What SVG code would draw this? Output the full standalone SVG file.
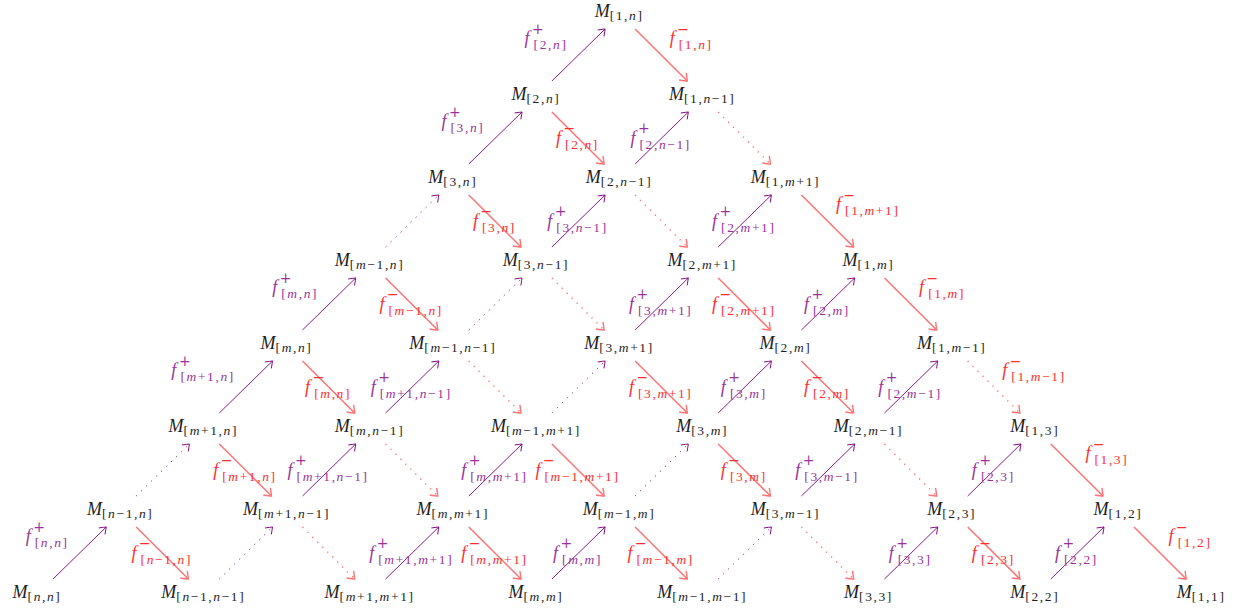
<svg xmlns="http://www.w3.org/2000/svg" width="1253" height="611" viewBox="0 0 1253 611">
<style>
.nd{font-family:"Liberation Serif","Times New Roman",serif;font-size:18px;fill:#1e1e1e;text-anchor:middle}
.lp,.lr{font-family:"Liberation Serif","Times New Roman",serif;font-size:18px}
.lp{fill:#993399}
.lr{fill:#ff2e2e}
.i{font-style:italic}
.s{font-size:13.5px;letter-spacing:1.6px}
.u{font-family:"DejaVu Serif",serif;font-size:14px}
.mid{text-anchor:middle}
.st{text-anchor:start}
.en{text-anchor:end}
.ap{stroke:#800080;stroke-width:0.9;fill:none;marker-end:url(#hp)}
.ar{stroke:#ff7373;stroke-width:1.5;fill:none;marker-end:url(#hr)}
.dot{stroke-dasharray:1.2 5.8}
</style>
<defs>
<marker id="hp" markerUnits="userSpaceOnUse" orient="auto" markerWidth="20" markerHeight="20" viewBox="-10 -10 20 20" refX="0" refY="0" overflow="visible"><path d="M-6,-4.5 Q-1.5,-1.2 0,0 Q-1.5,1.2 -6,4.5" fill="none" stroke="#800080" stroke-width="0.9"/></marker>
<marker id="hr" markerUnits="userSpaceOnUse" orient="auto" markerWidth="20" markerHeight="20" viewBox="-10 -10 20 20" refX="0" refY="0" overflow="visible"><path d="M-6.5,-5 Q-1.5,-1.2 0,0 Q-1.5,1.2 -6.5,5" fill="none" stroke="#ff7373" stroke-width="1.4"/></marker>
</defs>
<rect width="1253" height="611" fill="#ffffff"/>

<g id="connectors">
<!-- purple up-right -->
<line class="ap" x1="53" y1="579" x2="106.2" y2="527"/>
<line class="ap dot" x1="219.3" y1="579" x2="272.5" y2="527"/>
<line class="ap" x1="385.6" y1="579" x2="438.8" y2="527"/>
<line class="ap" x1="551.9" y1="579" x2="605.1" y2="527"/>
<line class="ap dot" x1="718.2" y1="579" x2="771.4" y2="527"/>
<line class="ap" x1="884.5" y1="579" x2="937.7" y2="527"/>
<line class="ap" x1="1050.8" y1="579" x2="1104" y2="527"/>
<line class="ap dot" x1="136.2" y1="496" x2="189.4" y2="444"/>
<line class="ap" x1="302.5" y1="496" x2="355.7" y2="444"/>
<line class="ap" x1="468.8" y1="496" x2="522" y2="444"/>
<line class="ap dot" x1="635.1" y1="496" x2="688.3" y2="444"/>
<line class="ap" x1="801.4" y1="496" x2="854.6" y2="444"/>
<line class="ap" x1="967.7" y1="496" x2="1020.9" y2="444"/>
<line class="ap" x1="219.3" y1="413" x2="272.5" y2="361"/>
<line class="ap" x1="385.6" y1="413" x2="438.8" y2="361"/>
<line class="ap dot" x1="551.9" y1="413" x2="605.1" y2="361"/>
<line class="ap" x1="718.2" y1="413" x2="771.4" y2="361"/>
<line class="ap" x1="884.5" y1="413" x2="937.7" y2="361"/>
<line class="ap" x1="302.5" y1="330" x2="355.7" y2="278"/>
<line class="ap dot" x1="468.8" y1="330" x2="522" y2="278"/>
<line class="ap" x1="635.1" y1="330" x2="688.3" y2="278"/>
<line class="ap" x1="801.4" y1="330" x2="854.6" y2="278"/>
<line class="ap dot" x1="385.6" y1="247" x2="438.8" y2="195"/>
<line class="ap" x1="551.9" y1="247" x2="605.1" y2="195"/>
<line class="ap" x1="718.2" y1="247" x2="771.4" y2="195"/>
<line class="ap" x1="468.8" y1="164" x2="522" y2="112"/>
<line class="ap" x1="635.1" y1="164" x2="688.3" y2="112"/>
<line class="ap" x1="551.9" y1="81" x2="605.1" y2="29"/>
<!-- red down-right -->
<line class="ar" x1="635.1" y1="29" x2="687.3" y2="81"/>
<line class="ar" x1="551.9" y1="112" x2="604.1" y2="164"/>
<line class="ar dot" x1="718.2" y1="112" x2="770.4" y2="164"/>
<line class="ar" x1="468.8" y1="195" x2="521" y2="247"/>
<line class="ar dot" x1="635.1" y1="195" x2="687.3" y2="247"/>
<line class="ar" x1="801.4" y1="195" x2="853.6" y2="247"/>
<line class="ar" x1="385.6" y1="278" x2="437.8" y2="330"/>
<line class="ar dot" x1="551.9" y1="278" x2="604.1" y2="330"/>
<line class="ar" x1="718.2" y1="278" x2="770.4" y2="330"/>
<line class="ar" x1="884.5" y1="278" x2="936.7" y2="330"/>
<line class="ar" x1="302.5" y1="361" x2="354.7" y2="413"/>
<line class="ar dot" x1="468.8" y1="361" x2="521" y2="413"/>
<line class="ar" x1="635.1" y1="361" x2="687.3" y2="413"/>
<line class="ar" x1="801.4" y1="361" x2="853.6" y2="413"/>
<line class="ar dot" x1="967.7" y1="361" x2="1019.9" y2="413"/>
<line class="ar" x1="219.3" y1="444" x2="271.5" y2="496"/>
<line class="ar dot" x1="385.6" y1="444" x2="437.8" y2="496"/>
<line class="ar" x1="551.9" y1="444" x2="604.1" y2="496"/>
<line class="ar" x1="718.2" y1="444" x2="770.4" y2="496"/>
<line class="ar dot" x1="884.5" y1="444" x2="936.7" y2="496"/>
<line class="ar" x1="1050.8" y1="444" x2="1103" y2="496"/>
<line class="ar" x1="136.2" y1="527" x2="188.4" y2="579"/>
<line class="ar dot" x1="302.5" y1="527" x2="354.7" y2="579"/>
<line class="ar" x1="468.8" y1="527" x2="521" y2="579"/>
<line class="ar" x1="635.1" y1="527" x2="687.3" y2="579"/>
<line class="ar dot" x1="801.4" y1="527" x2="853.6" y2="579"/>
<line class="ar" x1="967.7" y1="527" x2="1019.9" y2="579"/>
<line class="ar" x1="1134" y1="527" x2="1186.2" y2="579"/>

<!-- purple labels (interior) -->
<text class="lp mid" x="411.2" y="558.5"><tspan class="i">f</tspan><tspan class="u" dx="2.5" dy="-10.5">+</tspan><tspan class="s" dx="-10.2" dy="15.5">[<tspan class="i">m</tspan>+1,<tspan class="i">m</tspan>+1]</tspan></text>
<text class="lp mid" x="577.5" y="558.5"><tspan class="i">f</tspan><tspan class="u" dx="2.5" dy="-10.5">+</tspan><tspan class="s" dx="-10.2" dy="15.5">[<tspan class="i">m</tspan>,<tspan class="i">m</tspan>]</tspan></text>
<text class="lp mid" x="910.1" y="558.5"><tspan class="i">f</tspan><tspan class="u" dx="2.5" dy="-10.5">+</tspan><tspan class="s" dx="-10.2" dy="15.5">[3,3]</tspan></text>
<text class="lp mid" x="1076.4" y="558.5"><tspan class="i">f</tspan><tspan class="u" dx="2.5" dy="-10.5">+</tspan><tspan class="s" dx="-10.2" dy="15.5">[2,2]</tspan></text>
<text class="lp mid" x="328.1" y="475.5"><tspan class="i">f</tspan><tspan class="u" dx="2.5" dy="-10.5">+</tspan><tspan class="s" dx="-10.2" dy="15.5">[<tspan class="i">m</tspan>+1,<tspan class="i">n</tspan>−1]</tspan></text>
<text class="lp mid" x="494.4" y="475.5"><tspan class="i">f</tspan><tspan class="u" dx="2.5" dy="-10.5">+</tspan><tspan class="s" dx="-10.2" dy="15.5">[<tspan class="i">m</tspan>,<tspan class="i">m</tspan>+1]</tspan></text>
<text class="lp mid" x="827" y="475.5"><tspan class="i">f</tspan><tspan class="u" dx="2.5" dy="-10.5">+</tspan><tspan class="s" dx="-10.2" dy="15.5">[3,<tspan class="i">m</tspan>−1]</tspan></text>
<text class="lp mid" x="993.3" y="475.5"><tspan class="i">f</tspan><tspan class="u" dx="2.5" dy="-10.5">+</tspan><tspan class="s" dx="-10.2" dy="15.5">[2,3]</tspan></text>
<text class="lp mid" x="411.2" y="392.5"><tspan class="i">f</tspan><tspan class="u" dx="2.5" dy="-10.5">+</tspan><tspan class="s" dx="-10.2" dy="15.5">[<tspan class="i">m</tspan>+1,<tspan class="i">n</tspan>−1]</tspan></text>
<text class="lp mid" x="743.8" y="392.5"><tspan class="i">f</tspan><tspan class="u" dx="2.5" dy="-10.5">+</tspan><tspan class="s" dx="-10.2" dy="15.5">[3,<tspan class="i">m</tspan>]</tspan></text>
<text class="lp mid" x="910.1" y="392.5"><tspan class="i">f</tspan><tspan class="u" dx="2.5" dy="-10.5">+</tspan><tspan class="s" dx="-10.2" dy="15.5">[2,<tspan class="i">m</tspan>−1]</tspan></text>
<text class="lp mid" x="660.7" y="309.5"><tspan class="i">f</tspan><tspan class="u" dx="2.5" dy="-10.5">+</tspan><tspan class="s" dx="-10.2" dy="15.5">[3,<tspan class="i">m</tspan>+1]</tspan></text>
<text class="lp mid" x="827" y="309.5"><tspan class="i">f</tspan><tspan class="u" dx="2.5" dy="-10.5">+</tspan><tspan class="s" dx="-10.2" dy="15.5">[2,<tspan class="i">m</tspan>]</tspan></text>
<text class="lp mid" x="577.5" y="226.5"><tspan class="i">f</tspan><tspan class="u" dx="2.5" dy="-10.5">+</tspan><tspan class="s" dx="-10.2" dy="15.5">[3,<tspan class="i">n</tspan>−1]</tspan></text>
<text class="lp mid" x="743.8" y="226.5"><tspan class="i">f</tspan><tspan class="u" dx="2.5" dy="-10.5">+</tspan><tspan class="s" dx="-10.2" dy="15.5">[2,<tspan class="i">m</tspan>+1]</tspan></text>
<text class="lp mid" x="660.7" y="143.5"><tspan class="i">f</tspan><tspan class="u" dx="2.5" dy="-10.5">+</tspan><tspan class="s" dx="-10.2" dy="15.5">[2,<tspan class="i">n</tspan>−1]</tspan></text>
<!-- purple labels (outside left) -->
<text class="lp en" x="68.6" y="542"><tspan class="i">f</tspan><tspan class="u" dx="2.5" dy="-10.5">+</tspan><tspan class="s" dx="-10.2" dy="15.5">[<tspan class="i">n</tspan>,<tspan class="i">n</tspan>]</tspan></text>
<text class="lp en" x="234.9" y="376"><tspan class="i">f</tspan><tspan class="u" dx="2.5" dy="-10.5">+</tspan><tspan class="s" dx="-10.2" dy="15.5">[<tspan class="i">m</tspan>+1,<tspan class="i">n</tspan>]</tspan></text>
<text class="lp en" x="318.1" y="293"><tspan class="i">f</tspan><tspan class="u" dx="2.5" dy="-10.5">+</tspan><tspan class="s" dx="-10.2" dy="15.5">[<tspan class="i">m</tspan>,<tspan class="i">n</tspan>]</tspan></text>
<text class="lp en" x="484.4" y="127"><tspan class="i">f</tspan><tspan class="u" dx="2.5" dy="-10.5">+</tspan><tspan class="s" dx="-10.2" dy="15.5">[3,<tspan class="i">n</tspan>]</tspan></text>
<text class="lp en" x="567.5" y="44"><tspan class="i">f</tspan><tspan class="u" dx="2.5" dy="-10.5">+</tspan><tspan class="s" dx="-10.2" dy="15.5">[2,<tspan class="i">n</tspan>]</tspan></text>
<!-- red labels (interior) -->
<text class="lr mid" x="577.5" y="143.5"><tspan class="i">f</tspan><tspan class="u" dx="2.5" dy="-10.5">−</tspan><tspan class="s" dx="-10.2" dy="15.5">[2,<tspan class="i">n</tspan>]</tspan></text>
<text class="lr mid" x="494.4" y="226.5"><tspan class="i">f</tspan><tspan class="u" dx="2.5" dy="-10.5">−</tspan><tspan class="s" dx="-10.2" dy="15.5">[3,<tspan class="i">n</tspan>]</tspan></text>
<text class="lr mid" x="411.2" y="309.5"><tspan class="i">f</tspan><tspan class="u" dx="2.5" dy="-10.5">−</tspan><tspan class="s" dx="-10.2" dy="15.5">[<tspan class="i">m</tspan>−1,<tspan class="i">n</tspan>]</tspan></text>
<text class="lr mid" x="743.8" y="309.5"><tspan class="i">f</tspan><tspan class="u" dx="2.5" dy="-10.5">−</tspan><tspan class="s" dx="-10.2" dy="15.5">[2,<tspan class="i">m</tspan>+1]</tspan></text>
<text class="lr mid" x="328.1" y="392.5"><tspan class="i">f</tspan><tspan class="u" dx="2.5" dy="-10.5">−</tspan><tspan class="s" dx="-10.2" dy="15.5">[<tspan class="i">m</tspan>,<tspan class="i">n</tspan>]</tspan></text>
<text class="lr mid" x="660.7" y="392.5"><tspan class="i">f</tspan><tspan class="u" dx="2.5" dy="-10.5">−</tspan><tspan class="s" dx="-10.2" dy="15.5">[3,<tspan class="i">m</tspan>+1]</tspan></text>
<text class="lr mid" x="827" y="392.5"><tspan class="i">f</tspan><tspan class="u" dx="2.5" dy="-10.5">−</tspan><tspan class="s" dx="-10.2" dy="15.5">[2,<tspan class="i">m</tspan>]</tspan></text>
<text class="lr mid" x="244.9" y="475.5"><tspan class="i">f</tspan><tspan class="u" dx="2.5" dy="-10.5">−</tspan><tspan class="s" dx="-10.2" dy="15.5">[<tspan class="i">m</tspan>+1,<tspan class="i">n</tspan>]</tspan></text>
<text class="lr mid" x="577.5" y="475.5"><tspan class="i">f</tspan><tspan class="u" dx="2.5" dy="-10.5">−</tspan><tspan class="s" dx="-10.2" dy="15.5">[<tspan class="i">m</tspan>−1,<tspan class="i">m</tspan>+1]</tspan></text>
<text class="lr mid" x="743.8" y="475.5"><tspan class="i">f</tspan><tspan class="u" dx="2.5" dy="-10.5">−</tspan><tspan class="s" dx="-10.2" dy="15.5">[3,<tspan class="i">m</tspan>]</tspan></text>
<text class="lr mid" x="161.8" y="558.5"><tspan class="i">f</tspan><tspan class="u" dx="2.5" dy="-10.5">−</tspan><tspan class="s" dx="-10.2" dy="15.5">[<tspan class="i">n</tspan>−1,<tspan class="i">n</tspan>]</tspan></text>
<text class="lr mid" x="494.4" y="558.5"><tspan class="i">f</tspan><tspan class="u" dx="2.5" dy="-10.5">−</tspan><tspan class="s" dx="-10.2" dy="15.5">[<tspan class="i">m</tspan>,<tspan class="i">m</tspan>+1]</tspan></text>
<text class="lr mid" x="660.7" y="558.5"><tspan class="i">f</tspan><tspan class="u" dx="2.5" dy="-10.5">−</tspan><tspan class="s" dx="-10.2" dy="15.5">[<tspan class="i">m</tspan>−1,<tspan class="i">m</tspan>]</tspan></text>
<text class="lr mid" x="993.3" y="558.5"><tspan class="i">f</tspan><tspan class="u" dx="2.5" dy="-10.5">−</tspan><tspan class="s" dx="-10.2" dy="15.5">[2,3]</tspan></text>
<!-- red labels (outside right) -->
<text class="lr st" x="669.7" y="44"><tspan class="i">f</tspan><tspan class="u" dx="2.5" dy="-10.5">−</tspan><tspan class="s" dx="-10.2" dy="15.5">[1,<tspan class="i">n</tspan>]</tspan></text>
<text class="lr st" x="836" y="210"><tspan class="i">f</tspan><tspan class="u" dx="2.5" dy="-10.5">−</tspan><tspan class="s" dx="-10.2" dy="15.5">[1,<tspan class="i">m</tspan>+1]</tspan></text>
<text class="lr st" x="919.1" y="293"><tspan class="i">f</tspan><tspan class="u" dx="2.5" dy="-10.5">−</tspan><tspan class="s" dx="-10.2" dy="15.5">[1,<tspan class="i">m</tspan>]</tspan></text>
<text class="lr st" x="1002.3" y="376"><tspan class="i">f</tspan><tspan class="u" dx="2.5" dy="-10.5">−</tspan><tspan class="s" dx="-10.2" dy="15.5">[1,<tspan class="i">m</tspan>−1]</tspan></text>
<text class="lr st" x="1085.4" y="459"><tspan class="i">f</tspan><tspan class="u" dx="2.5" dy="-10.5">−</tspan><tspan class="s" dx="-10.2" dy="15.5">[1,3]</tspan></text>
<text class="lr st" x="1168.6" y="542"><tspan class="i">f</tspan><tspan class="u" dx="2.5" dy="-10.5">−</tspan><tspan class="s" dx="-10.2" dy="15.5">[1,2]</tspan></text>
</g>

<!-- nodes -->
<g id="M-r0c0"><text class="nd" x="37" y="598"><tspan class="i">M</tspan><tspan class="s" dy="3">[<tspan class="i">n</tspan>,<tspan class="i">n</tspan>]</tspan></text></g>
<g id="M-r0c2"><text class="nd" x="203.3" y="598"><tspan class="i">M</tspan><tspan class="s" dy="3">[<tspan class="i">n</tspan>−1,<tspan class="i">n</tspan>−1]</tspan></text></g>
<g id="M-r0c4"><text class="nd" x="369.6" y="598"><tspan class="i">M</tspan><tspan class="s" dy="3">[<tspan class="i">m</tspan>+1,<tspan class="i">m</tspan>+1]</tspan></text></g>
<g id="M-r0c6"><text class="nd" x="535.9" y="598"><tspan class="i">M</tspan><tspan class="s" dy="3">[<tspan class="i">m</tspan>,<tspan class="i">m</tspan>]</tspan></text></g>
<g id="M-r0c8"><text class="nd" x="702.2" y="598"><tspan class="i">M</tspan><tspan class="s" dy="3">[<tspan class="i">m</tspan>−1,<tspan class="i">m</tspan>−1]</tspan></text></g>
<g id="M-r0c10"><text class="nd" x="868.5" y="598"><tspan class="i">M</tspan><tspan class="s" dy="3">[3,3]</tspan></text></g>
<g id="M-r0c12"><text class="nd" x="1034.8" y="598"><tspan class="i">M</tspan><tspan class="s" dy="3">[2,2]</tspan></text></g>
<g id="M-r0c14"><text class="nd" x="1201.1" y="598"><tspan class="i">M</tspan><tspan class="s" dy="3">[1,1]</tspan></text></g>

<g id="M-r1c1"><text class="nd" x="120.2" y="515"><tspan class="i">M</tspan><tspan class="s" dy="3">[<tspan class="i">n</tspan>−1,<tspan class="i">n</tspan>]</tspan></text></g>
<g id="M-r1c3"><text class="nd" x="286.5" y="515"><tspan class="i">M</tspan><tspan class="s" dy="3">[<tspan class="i">m</tspan>+1,<tspan class="i">n</tspan>−1]</tspan></text></g>
<g id="M-r1c5"><text class="nd" x="452.8" y="515"><tspan class="i">M</tspan><tspan class="s" dy="3">[<tspan class="i">m</tspan>,<tspan class="i">m</tspan>+1]</tspan></text></g>
<g id="M-r1c7"><text class="nd" x="619.1" y="515"><tspan class="i">M</tspan><tspan class="s" dy="3">[<tspan class="i">m</tspan>−1,<tspan class="i">m</tspan>]</tspan></text></g>
<g id="M-r1c9"><text class="nd" x="785.4" y="515"><tspan class="i">M</tspan><tspan class="s" dy="3">[3,<tspan class="i">m</tspan>−1]</tspan></text></g>
<g id="M-r1c11"><text class="nd" x="951.7" y="515"><tspan class="i">M</tspan><tspan class="s" dy="3">[2,3]</tspan></text></g>
<g id="M-r1c13"><text class="nd" x="1118" y="515"><tspan class="i">M</tspan><tspan class="s" dy="3">[1,2]</tspan></text></g>

<g id="M-r2c2"><text class="nd" x="203.3" y="432"><tspan class="i">M</tspan><tspan class="s" dy="3">[<tspan class="i">m</tspan>+1,<tspan class="i">n</tspan>]</tspan></text></g>
<g id="M-r2c4"><text class="nd" x="369.6" y="432"><tspan class="i">M</tspan><tspan class="s" dy="3">[<tspan class="i">m</tspan>,<tspan class="i">n</tspan>−1]</tspan></text></g>
<g id="M-r2c6"><text class="nd" x="535.9" y="432"><tspan class="i">M</tspan><tspan class="s" dy="3">[<tspan class="i">m</tspan>−1,<tspan class="i">m</tspan>+1]</tspan></text></g>
<g id="M-r2c8"><text class="nd" x="702.2" y="432"><tspan class="i">M</tspan><tspan class="s" dy="3">[3,<tspan class="i">m</tspan>]</tspan></text></g>
<g id="M-r2c10"><text class="nd" x="868.5" y="432"><tspan class="i">M</tspan><tspan class="s" dy="3">[2,<tspan class="i">m</tspan>−1]</tspan></text></g>
<g id="M-r2c12"><text class="nd" x="1034.8" y="432"><tspan class="i">M</tspan><tspan class="s" dy="3">[1,3]</tspan></text></g>

<g id="M-r3c3"><text class="nd" x="286.5" y="349"><tspan class="i">M</tspan><tspan class="s" dy="3">[<tspan class="i">m</tspan>,<tspan class="i">n</tspan>]</tspan></text></g>
<g id="M-r3c5"><text class="nd" x="452.8" y="349"><tspan class="i">M</tspan><tspan class="s" dy="3">[<tspan class="i">m</tspan>−1,<tspan class="i">n</tspan>−1]</tspan></text></g>
<g id="M-r3c7"><text class="nd" x="619.1" y="349"><tspan class="i">M</tspan><tspan class="s" dy="3">[3,<tspan class="i">m</tspan>+1]</tspan></text></g>
<g id="M-r3c9"><text class="nd" x="785.4" y="349"><tspan class="i">M</tspan><tspan class="s" dy="3">[2,<tspan class="i">m</tspan>]</tspan></text></g>
<g id="M-r3c11"><text class="nd" x="951.7" y="349"><tspan class="i">M</tspan><tspan class="s" dy="3">[1,<tspan class="i">m</tspan>−1]</tspan></text></g>

<g id="M-r4c4"><text class="nd" x="369.6" y="266"><tspan class="i">M</tspan><tspan class="s" dy="3">[<tspan class="i">m</tspan>−1,<tspan class="i">n</tspan>]</tspan></text></g>
<g id="M-r4c6"><text class="nd" x="535.9" y="266"><tspan class="i">M</tspan><tspan class="s" dy="3">[3,<tspan class="i">n</tspan>−1]</tspan></text></g>
<g id="M-r4c8"><text class="nd" x="702.2" y="266"><tspan class="i">M</tspan><tspan class="s" dy="3">[2,<tspan class="i">m</tspan>+1]</tspan></text></g>
<g id="M-r4c10"><text class="nd" x="868.5" y="266"><tspan class="i">M</tspan><tspan class="s" dy="3">[1,<tspan class="i">m</tspan>]</tspan></text></g>

<g id="M-r5c5"><text class="nd" x="452.8" y="183"><tspan class="i">M</tspan><tspan class="s" dy="3">[3,<tspan class="i">n</tspan>]</tspan></text></g>
<g id="M-r5c7"><text class="nd" x="619.1" y="183"><tspan class="i">M</tspan><tspan class="s" dy="3">[2,<tspan class="i">n</tspan>−1]</tspan></text></g>
<g id="M-r5c9"><text class="nd" x="785.4" y="183"><tspan class="i">M</tspan><tspan class="s" dy="3">[1,<tspan class="i">m</tspan>+1]</tspan></text></g>

<g id="M-r6c6"><text class="nd" x="535.9" y="100"><tspan class="i">M</tspan><tspan class="s" dy="3">[2,<tspan class="i">n</tspan>]</tspan></text></g>
<g id="M-r6c8"><text class="nd" x="702.2" y="100"><tspan class="i">M</tspan><tspan class="s" dy="3">[1,<tspan class="i">n</tspan>−1]</tspan></text></g>

<g id="M-r7c7"><text class="nd" x="619.1" y="17"><tspan class="i">M</tspan><tspan class="s" dy="3">[1,<tspan class="i">n</tspan>]</tspan></text></g>
</svg>
